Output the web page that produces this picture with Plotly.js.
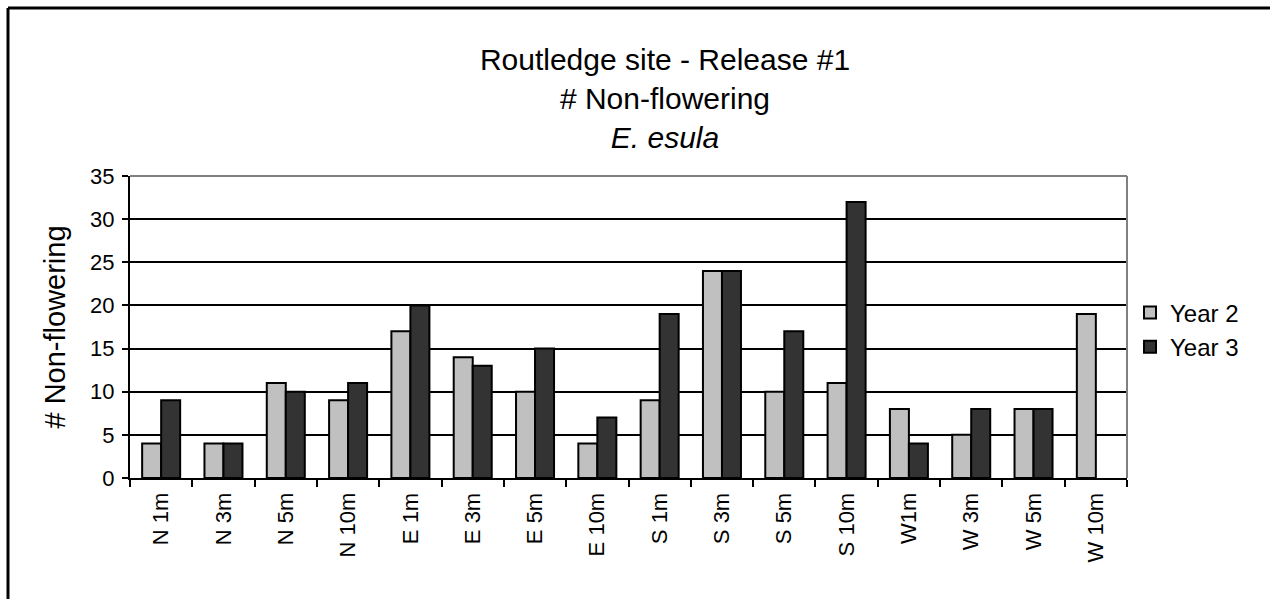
<!DOCTYPE html>
<html>
<head>
<meta charset="utf-8">
<script src="https://cdn.plot.ly/plotly-3.0.1.min.js"></script>
<style>
html,body{margin:0;padding:0;background:#fff;}
#chart{width:1270px;height:599px;}
</style>
</head>
<body>
<div id="chart"></div>
<script>
const categories = ["N 1m","N 3m","N 5m","N 10m","E 1m","E 3m","E 5m","E 10m","S 1m","S 3m","S 5m","S 10m","W1m","W 3m","W 5m","W 10m"];
const year2 = [4,4,11,9,17,14,10,4,9,24,10,11,8,5,8,19];
const year3 = [9,4,10,11,20,13,15,7,19,24,17,32,4,8,8,null];
const yTicks = [0,5,10,15,20,25,30,35];

const W = 1270, H = 599;
const L = 130, R = 143, T = 176, B = 121;
const pw = W - L - R, ph = H - T - B;
const px = x => (x - L) / pw;
const py = y => (H - B - y) / ph;

const font = "Liberation Sans, Arial, sans-serif";

const traces = [
  {type:"bar", name:"Year 2", x:categories, y:year2,
   marker:{color:"#C0C0C0", line:{color:"#000", width:2}}},
  {type:"bar", name:"Year 3", x:categories, y:year3,
   marker:{color:"#333333", line:{color:"#000", width:2}}}
];

const layout = {
  width:W, height:H,
  margin:{l:L, r:R, t:T, b:B, autoexpand:false},
  paper_bgcolor:"#fff", plot_bgcolor:"#fff",
  font:{family:font, color:"#000"},
  title:{text:"Routledge site - Release #1<br># Non-flowering<br><i>E. esula</i>",
         font:{family:font, size:30, color:"#000"},
         xref:"container", x:665/W, xanchor:"center",
         yref:"container", y:1-70/H, yanchor:"top"},
  barmode:"group", bargap:0.39, bargroupgap:0,
  showlegend:true,
  legend:{x:px(1130), y:py(330), xanchor:"left", yanchor:"middle",
          font:{family:font, size:24, color:"#000"}, bgcolor:"rgba(0,0,0,0)",
          tracegroupgap:0},
  xaxis:{type:"category", tickangle:-90, tickson:"boundaries",
         ticks:"outside", ticklen:7, tickwidth:2, tickcolor:"#000",
         showline:true, linecolor:"#000", linewidth:2,
         showgrid:false, automargin:false, ticklabelstandoff:4,
         tickfont:{family:font, size:22, color:"#000"}},
  yaxis:{range:[0,35], tickvals:yTicks, ticktext:yTicks.map(String),
         ticks:"outside", ticklen:6, tickwidth:2, tickcolor:"#000",
         showline:true, linecolor:"#000", linewidth:2,
         showgrid:true, gridcolor:"#000", gridwidth:2,
         zeroline:false, automargin:false, fixedrange:true,
         ticklabelstandoff:3,
         tickfont:{family:font, size:22, color:"#000"},
         title:{text:"# Non-flowering", font:{family:font, size:29, color:"#000"}, standoff:16}},
  shapes:[
    {type:"line", xref:"paper", yref:"paper", x0:0, x1:1, y0:1, y1:1, line:{color:"#808080", width:2}, layer:"above"},
    {type:"line", xref:"paper", yref:"paper", x0:1, x1:1, y0:0, y1:1, line:{color:"#808080", width:2}, layer:"above"},
    {type:"line", xref:"paper", yref:"paper", x0:px(8), x1:px(8), y0:py(8), y1:py(610), line:{color:"#000", width:3}, layer:"above"},
    {type:"line", xref:"paper", yref:"paper", x0:px(8), x1:px(1280), y0:py(8), y1:py(8), line:{color:"#000", width:3}, layer:"above"}
  ]
};

Plotly.newPlot("chart", traces, layout, {displayModeBar:false, staticPlot:true});
</script>
</body>
</html>
